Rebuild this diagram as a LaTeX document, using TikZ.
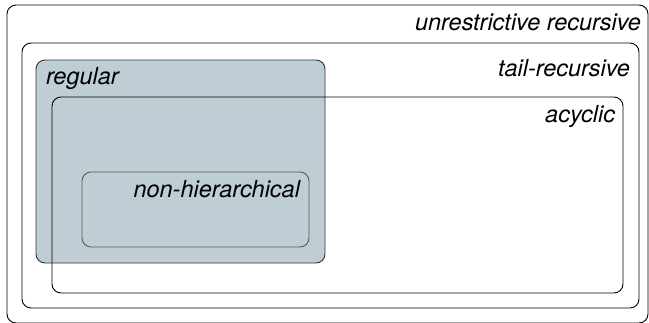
\documentclass[tikz,border=0pt]{standalone}
\usepackage{fontspec}
\setmainfont{TeX Gyre Heros}
\definecolor{regfill}{RGB}{191,206,212}
\begin{document}
\begin{tikzpicture}
[x=1pt,y=-1pt,
 every node/.style={inner sep=0pt,outer sep=0pt},
 set/.style={draw=black,line width=0.9pt,rounded corners=9pt},
 reg/.style={set,draw=black!80,fill=regfill},
 inner/.style={set,draw=black!65},
 lbl/.style={font=\fontsize{23.5}{28}\selectfont\itshape}]
\useasboundingbox (0,0) rectangle (649,322);
% filled set first, outlines of the others on top
\draw[reg]   (36,60)  rectangle (325,263);
\draw[set]   (7,5)    rectangle (648,323);
\draw[set]   (22,43)  rectangle (639,308);
\draw[set]   (52,97)  rectangle (623,293);
\draw[inner] (82,172) rectangle (309,247);
\node[lbl,anchor=base east] (unres) at (641,30)  {unrestrictive recursive};
\node[lbl,anchor=base east] (tail)  at (630,76)  {tail-recursive};
\node[lbl,anchor=base east] (acyc)  at (615,122) {acyclic};
\node[lbl,anchor=base west] (regl)  at (46,84)   {regular};
\node[lbl,anchor=base east] (nonh)  at (300,197) {non-hierarchical};
\end{tikzpicture}
\end{document}
